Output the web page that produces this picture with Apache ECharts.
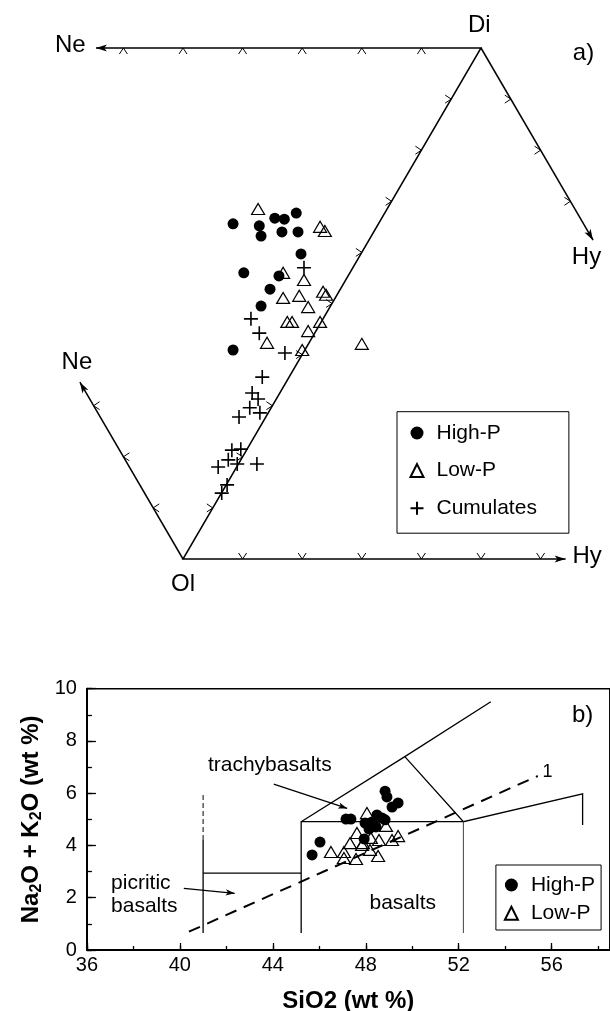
<!DOCTYPE html>
<html>
<head>
<meta charset="utf-8">
<script src="https://cdn.jsdelivr.net/npm/echarts@6/dist/echarts.min.js"></script>
<style>
  html, body { margin: 0; padding: 0; background: #fff; }
  #chart { width: 610px; height: 1011px; }
</style>
</head>
<body>
<div id="chart"></div>
<script>
// ---------------- Panel a: Ne-Di-Ol-Hy projection ----------------
// Coordinates in diagram units: Ol at (0,0), Di at (5,10); one tick step per unit.
const highP_a = [
  [0.84, 6.56], [1.28, 6.52], [1.31, 6.32], [1.54, 6.67], [1.70, 6.65], [1.90, 6.77],
  [1.66, 6.40], [1.93, 6.40], [1.98, 5.97], [1.02, 5.60], [1.61, 5.54], [1.46, 5.28],
  [1.31, 4.95], [0.84, 4.09]
];
const lowP_a = [
  [1.26, 6.85], [2.30, 6.50], [2.38, 6.42], [1.68, 5.60], [2.03, 5.46], [2.35, 5.23],
  [2.40, 5.17], [1.68, 5.11], [1.95, 5.15], [2.10, 4.93], [1.75, 4.64], [1.83, 4.64],
  [2.30, 4.64], [2.10, 4.46], [1.41, 4.23], [2.00, 4.09], [3.00, 4.21]
];
const cumulates_a = [
  [2.03, 5.70], [1.14, 4.70], [1.28, 4.42], [1.71, 4.03], [1.33, 3.56], [1.16, 3.25],
  [1.26, 3.13], [1.12, 2.96], [1.29, 2.86], [0.94, 2.78], [0.82, 2.13], [0.97, 2.15],
  [0.76, 1.94], [0.91, 1.86], [1.24, 1.86], [0.59, 1.80], [0.74, 1.45], [0.65, 1.29]
];

// Diagram frame: apices and arrow tips of the projection axes
const OL = [0, 0];
const DI = [5, 10];
const NE_TOP = [-1.46, 10];
const HY_BOTTOM = [6.42, 0];
const HY_RIGHT = [6.88, 6.24];
const NE_LEFT = [-1.73, 3.46];

// Tick positions (every 10 %) along each side
const ticksTop = [[4, 10], [3, 10], [2, 10], [1, 10], [0, 10], [-1, 10]];
const ticksBottom = [[1, 0], [2, 0], [3, 0], [4, 0], [5, 0], [6, 0]];
const ticksDiOl = [[4.5, 9], [4, 8], [3.5, 7], [3, 6], [2.5, 5], [2, 4], [1.5, 3], [1, 2], [0.5, 1]];
const ticksDiHy = [[5.5, 9], [6, 8], [6.5, 7]];
const ticksOlNe = [[-0.5, 1], [-1, 2], [-1.5, 3]];

// Apex labels
const apexLabels_a = [
  { text: 'Di', at: [4.97, 10.45] },
  { text: 'Ne', at: [-1.89, 10.06] },
  { text: 'Hy', at: [6.77, 5.91] },
  { text: 'Ne', at: [-1.78, 3.845] },
  { text: 'Ol', at: [0.0, -0.49] },
  { text: 'Hy', at: [6.78, 0.045] },
  { text: 'a)', at: [6.72, 9.89] }
];

// ---------------- Panel b: total alkali vs silica ----------------
const sio2Range = [36, 58.5];
const alkaliRange = [0, 10];
const highP_b = [
  [48.83, 6.08], [48.91, 5.86], [49.13, 5.47], [49.39, 5.63], [47.15, 5.01], [47.36, 5.01],
  [47.97, 4.86], [48.48, 5.17], [48.70, 5.05], [48.27, 4.90], [48.44, 4.71], [48.83, 4.98],
  [48.14, 4.63], [47.93, 4.25], [46.03, 4.13], [45.69, 3.64]
];
const lowP_b = [
  [48.05, 5.24], [48.87, 4.75], [47.62, 4.48], [47.32, 4.09], [46.50, 3.75], [47.06, 3.75],
  [47.06, 3.52], [47.58, 3.48], [47.84, 4.02], [48.18, 3.83], [48.53, 3.60], [48.57, 4.21],
  [49.13, 4.21], [49.39, 4.36], [48.22, 4.29], [47.88, 4.09]
];

// Field boundaries (SiO2, Na2O+K2O)
const fieldLines = [
  [[41.0, 0.65], [41.0, 4.21]],
  [[41.0, 2.94], [45.22, 2.94]],
  [[45.22, 0.65], [45.22, 4.91], [52.2, 4.91]],
  [[45.22, 4.91], [49.68, 7.40], [53.38, 9.50]],
  [[49.68, 7.40], [52.2, 4.91], [57.33, 5.98], [57.33, 4.78]]
];
const thinLines = [[[52.2, 4.91], [52.2, 0.65]]];
const dottedLines = [[[41.0, 4.21], [41.0, 5.93]]];
const alkalineDivide = [[40.39, 0.70], [55.40, 6.66]];
const pointerArrows = [
  [[44.04, 6.35], [47.20, 5.42]],
  [[40.17, 2.36], [42.36, 2.17]]
];
const fieldLabels = [
  { text: 'trachybasalts', at: [43.87, 7.08], align: 'center' },
  { text: 'picritic', at: [37.04, 2.55], align: 'left' },
  { text: 'basalts', at: [37.04, 1.66], align: 'left' },
  { text: 'basalts', at: [49.59, 1.79], align: 'center' },
  { text: '1', at: [55.82, 6.82], align: 'center', size: 18 },
  { text: 'b)', at: [57.33, 8.99], align: 'center', size: 24 }
];

const FONT = '"Liberation Sans", Arial, Helvetica, sans-serif';

function polyline(api, pts, style) {
  return {
    type: 'polyline',
    shape: { points: pts.map(p => api.coord(p)) },
    style: Object.assign({ fill: null, stroke: '#000', lineWidth: 1.5 }, style || {}),
    silent: true
  };
}

function arrowHead(api, from, to, len, half) {
  const a = api.coord(from), b = api.coord(to);
  const dx = b[0] - a[0], dy = b[1] - a[1];
  const L = Math.hypot(dx, dy);
  const ux = dx / L, uy = dy / L;
  const bx = b[0] - ux * len, by = b[1] - uy * len;
  const nx = b[0] - ux * len * 0.75, ny = b[1] - uy * len * 0.75;
  return {
    type: 'polygon',
    shape: { points: [b, [bx - uy * half, by + ux * half], [nx, ny], [bx + uy * half, by - ux * half]] },
    style: { fill: '#000', stroke: null },
    silent: true
  };
}

function chevrons(api, pts, legs) {
  return pts.map(p => {
    const c = api.coord(p);
    return {
      type: 'polyline',
      shape: { points: [[c[0] + legs[0][0], c[1] + legs[0][1]], c, [c[0] + legs[1][0], c[1] + legs[1][1]]] },
      style: { fill: null, stroke: '#000', lineWidth: 1 },
      silent: true
    };
  });
}

function textEl(api, t, size, align, weight) {
  const c = api.coord(t.at);
  return {
    type: 'text',
    x: c[0], y: c[1],
    style: {
      text: t.text,
      font: (weight || 'normal') + ' ' + size + 'px ' + FONT,
      fill: '#000',
      align: align || 'center',
      verticalAlign: 'middle'
    },
    silent: true
  };
}

function renderFrameA(params, api) {
  const children = [];
  children.push(polyline(api, [NE_TOP, DI, OL, HY_BOTTOM]));
  children.push(polyline(api, [DI, HY_RIGHT]));
  children.push(polyline(api, [OL, NE_LEFT]));
  children.push(arrowHead(api, DI, NE_TOP, 11, 3.5));
  children.push(arrowHead(api, OL, HY_BOTTOM, 11, 3.5));
  children.push(arrowHead(api, DI, HY_RIGHT, 11, 3.5));
  children.push(arrowHead(api, OL, NE_LEFT, 11, 3.5));
  children.push(...chevrons(api, ticksTop, [[-4, 6], [4, 6]]));
  children.push(...chevrons(api, ticksBottom, [[-4, -6], [4, -6]]));
  children.push(...chevrons(api, ticksDiOl, [[-6, -4], [-6, 4]]));
  children.push(...chevrons(api, ticksDiHy, [[-6, -4], [-6, 4]]));
  children.push(...chevrons(api, ticksOlNe, [[6, -4], [6, 4]]));
  apexLabels_a.forEach(t => children.push(textEl(api, t, 24, 'center')));
  return { type: 'group', children: children };
}

function renderFieldsB(params, api) {
  const children = [];
  fieldLines.forEach(l => children.push(polyline(api, l, { lineWidth: 1.3 })));
  thinLines.forEach(l => children.push(polyline(api, l, { lineWidth: 1, stroke: '#444' })));
  dottedLines.forEach(l => children.push(polyline(api, l, { lineWidth: 1, lineDash: [5, 3] })));
  children.push(polyline(api, alkalineDivide, { lineWidth: 2, lineDash: [12, 8] }));
  pointerArrows.forEach(a => {
    children.push(polyline(api, a, { lineWidth: 1.2 }));
    children.push(arrowHead(api, a[0], a[1], 9, 3.2));
  });
  fieldLabels.forEach(t => children.push(textEl(api, t, t.size || 21, t.align)));
  return { type: 'group', children: children };
}

const symCircle = { symbol: 'circle', itemStyle: { color: '#000', opacity: 1 } };
const symTriangle = {
  symbol: 'triangle',
  itemStyle: { color: 'rgba(0,0,0,0)', borderColor: '#000', borderWidth: 1.2, opacity: 1 }
};
const symCross = {
  symbol: 'path://M0,7H14M7,0V14',
  itemStyle: { color: '#000', borderColor: '#000', borderWidth: 1.6, opacity: 1 }
};

const labelFont = { color: '#000', fontFamily: FONT };

const chart = echarts.init(document.getElementById('chart'), null, { renderer: 'canvas' });
chart.setOption({
  animation: false,
  backgroundColor: '#fff',
  textStyle: { fontFamily: FONT },
  grid: [
    { left: 4.2, top: 22.45, width: 596, height: 587.65, show: false, containLabel: false, outerBoundsMode: 'none' },
    { left: 86.9, top: 688.7, width: 522.9, height: 261.3, show: true, borderColor: '#000', borderWidth: 1.5,
      containLabel: false, outerBoundsMode: 'none' }
  ],
  xAxis: [
    { gridIndex: 0, type: 'value', min: -3, max: 7, show: false },
    {
      gridIndex: 1, type: 'value', position: 'bottom', min: sio2Range[0], max: sio2Range[1], interval: 4,
      axisLine: { lineStyle: { color: '#000', width: 2 } },
      axisTick: { inside: true, length: 7, lineStyle: { color: '#000', width: 1.3 } },
      axisLabel: Object.assign({ fontSize: 20, margin: 5, showMaxLabel: false }, labelFont),
      splitLine: { show: false },
      name: 'SiO2 (wt %)', nameLocation: 'middle', nameGap: 39, nameMoveOverlap: false,
      nameTextStyle: { fontSize: 24, fontWeight: 'bold', color: '#000', fontFamily: FONT }
    },
    {
      gridIndex: 1, type: 'value', position: 'bottom', min: sio2Range[0], max: sio2Range[1], interval: 2,
      axisLine: { show: false },
      axisTick: { inside: true, length: 4, lineStyle: { color: '#000', width: 1.3 } },
      axisLabel: { show: false }, splitLine: { show: false }
    }
  ],
  yAxis: [
    { gridIndex: 0, type: 'value', min: -1, max: 10.5, show: false },
    {
      gridIndex: 1, type: 'value', position: 'left', min: alkaliRange[0], max: alkaliRange[1], interval: 2,
      axisLine: { lineStyle: { color: '#000', width: 2 } },
      axisTick: { inside: true, length: 9, lineStyle: { color: '#000', width: 1.3 } },
      axisLabel: Object.assign({ fontSize: 20, margin: 10 }, labelFont),
      splitLine: { show: false },
      name: 'Na{s|2}O + K{s|2}O (wt %)', nameLocation: 'middle', nameRotate: 90, nameGap: 44,
      nameMoveOverlap: false,
      nameTextStyle: {
        fontSize: 24, fontWeight: 'bold', color: '#000', fontFamily: FONT, lineHeight: 24,
        rich: { s: { fontSize: 16, fontWeight: 'bold', fontFamily: FONT, lineHeight: 16, padding: [12, 0, 0, 0] } }
      }
    },
    {
      gridIndex: 1, type: 'value', position: 'left', min: alkaliRange[0], max: alkaliRange[1], interval: 1,
      axisLine: { show: false },
      axisTick: { inside: true, length: 5, lineStyle: { color: '#000', width: 1.3 } },
      axisLabel: { show: false }, splitLine: { show: false }
    }
  ],
  legend: [
    {
      data: ['High-P', 'Low-P', 'Cumulates'], orient: 'vertical', left: 397, top: 411.7,
      padding: [10.8, 32, 14.5, 12.5], itemGap: 16.6, itemWidth: 13, itemHeight: 13,
      borderColor: '#000', borderWidth: 1, selectedMode: false,
      textStyle: { fontSize: 21, lineHeight: 21, color: '#000', fontFamily: FONT, padding: [0, 0, 0, 8] }
    },
    {
      data: ['High-P', 'Low-P'], orient: 'vertical', left: 495.9, top: 865,
      padding: [9.5, 6, 6.2, 8], itemGap: 7.3, itemWidth: 13, itemHeight: 13,
      borderColor: '#000', borderWidth: 1, selectedMode: false,
      textStyle: { fontSize: 21, lineHeight: 21, color: '#000', fontFamily: FONT, padding: [0, 0, 0, 8] }
    }
  ],
  series: [
    { type: 'custom', name: 'frame-a', xAxisIndex: 0, yAxisIndex: 0, data: [[0, 0]], renderItem: renderFrameA, silent: true, z: 1 },
    { type: 'custom', name: 'fields-b', xAxisIndex: 1, yAxisIndex: 1, data: [[40, 1]], renderItem: renderFieldsB, silent: true, z: 1 },
    Object.assign({ type: 'scatter', name: 'High-P', xAxisIndex: 0, yAxisIndex: 0, data: highP_a, symbolSize: 11, silent: true, z: 3 }, symCircle),
    Object.assign({ type: 'scatter', name: 'Low-P', xAxisIndex: 0, yAxisIndex: 0, data: lowP_a, symbolSize: [13, 11], silent: true, z: 3 }, symTriangle),
    Object.assign({ type: 'scatter', name: 'Cumulates', xAxisIndex: 0, yAxisIndex: 0, data: cumulates_a, symbolSize: 14, silent: true, z: 3 }, symCross),
    Object.assign({ type: 'scatter', name: 'High-P', xAxisIndex: 1, yAxisIndex: 1, data: highP_b, symbolSize: 11, silent: true, z: 3 }, symCircle),
    Object.assign({ type: 'scatter', name: 'Low-P', xAxisIndex: 1, yAxisIndex: 1, data: lowP_b, symbolSize: [13, 11], silent: true, z: 3 }, symTriangle)
  ]
});
</script>
</body>
</html>
